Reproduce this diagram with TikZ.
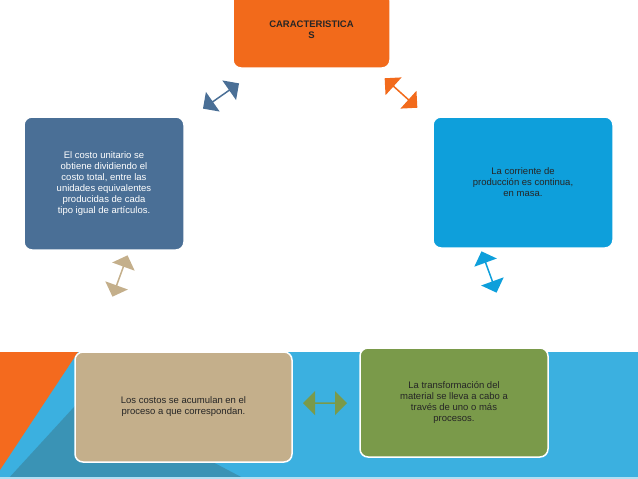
\documentclass[tikz,border=0pt]{standalone}
\usepackage{fontspec}
\setmainfont{Liberation Sans}
\usetikzlibrary{shapes.arrows}
\definecolor{bandblue}{HTML}{3BB0E0}
\definecolor{darkteal}{HTML}{3A93B5}
\definecolor{bandorange}{HTML}{F46A1E}
\definecolor{topbox}{HTML}{F26A1B}
\definecolor{rightbox}{HTML}{0E9FDB}
\definecolor{greenbox}{HTML}{7A9A4A}
\definecolor{tanbox}{HTML}{C4AF8B}
\definecolor{slatebox}{HTML}{4A6F96}
\begin{document}
\begin{tikzpicture}[x=1pt,y=-1pt,
    card/.style={draw=white, line width=1.5pt, rounded corners=8pt, align=center, font=\fontsize{9.5}{11}\selectfont},
    link/.style={double arrow, double arrow head extend=3pt, minimum height=44pt, minimum width=24pt, inner sep=0pt}]
  \useasboundingbox (0,0) rectangle (638,479);
  % background band
  \fill[bandblue] (0,352) rectangle (638,477);
  \fill[bandorange] (0,352) -- (78,352) -- (0,470) -- cycle;
  \fill[darkteal] (8,479) -- (85,395) -- (245,479) -- cycle;
  \fill[bandblue!40] (0,477) rectangle (638,479);
  % boxes
  \node[card, fill=topbox, minimum width=157pt, minimum height=76pt, text=black!85, font=\bfseries\fontsize{9.5}{11}\selectfont] (car) at (311.5,30) {CARACTERISTICA\\S};
  \node[card, fill=rightbox, minimum width=180pt, minimum height=131pt, text=black!85] (flujo) at (523,182.5) {La corriente de\\producción es continua,\\en masa.};
  \node[card, fill=greenbox, minimum width=188pt, minimum height=109pt, text=black!85] (trans) at (454,402.5) {La transformación del\\material se lleva a cabo a\\través de uno o más\\procesos.};
  \node[card, fill=tanbox, minimum width=217pt, minimum height=110pt, text=black!85] (acum) at (183.5,407) {Los costos se acumulan en el\\proceso a que correspondan.};
  \node[card, fill=slatebox, minimum width=160pt, minimum height=133pt, text=white] (unit) at (104,183.5) {El costo unitario se\\obtiene dividiendo el\\costo total, entre las\\unidades equivalentes\\producidas de cada\\tipo igual de artículos.};
  % arrows
  \node[link, fill=slatebox, rotate=35] (a1) at (221,96) {};
  \node[link, fill=topbox, rotate=-42] (a2) at (401,93) {};
  \node[link, fill=rightbox, rotate=-70] (a3) at (489,272) {};
  \node[link, fill=greenbox] (a4) at (325,403) {};
  \node[link, fill=tanbox, rotate=70] (a5) at (120,276) {};
\end{tikzpicture}
\end{document}
